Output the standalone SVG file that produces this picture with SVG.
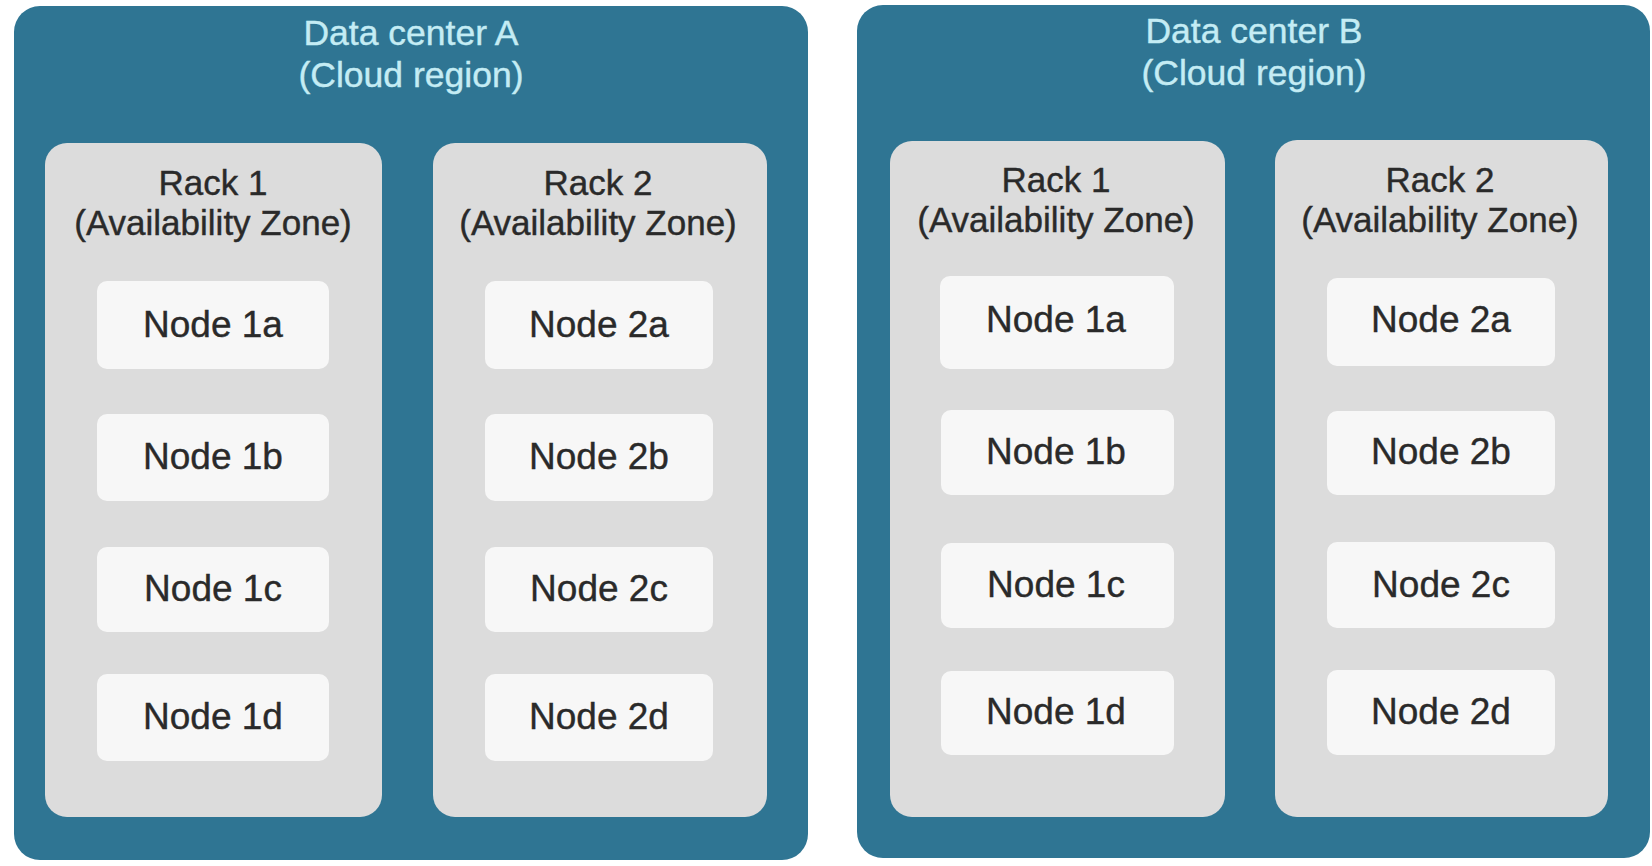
<svg xmlns="http://www.w3.org/2000/svg" width="1652" height="866" viewBox="0 0 1652 866">
<style>
.dc{fill:#2f7593;}
.rack{fill:#dcdcdc;}
.node{fill:#f7f7f7;}
.t{font-family:"Liberation Sans",Arial,sans-serif;text-anchor:middle;}
.dct{fill:#c4ecf4;font-size:35.5px;stroke:#c4ecf4;stroke-width:0.4;}
.rt{fill:#2a2a2a;font-size:35px;stroke:#2a2a2a;stroke-width:0.4;}
.nt{fill:#2a2a2a;font-size:37px;stroke:#2a2a2a;stroke-width:0.4;}
</style>
<rect width="1652" height="866" fill="#ffffff"/>
<g id="dcA">
<rect class="dc" x="14" y="6" width="794" height="854" rx="26"/>
<text class="t dct" x="411" y="45">Data center A</text>
<text class="t dct" x="411" y="87">(Cloud region)</text>
</g>
<g id="dcB">
<rect class="dc" x="857" y="5" width="793" height="853" rx="26"/>
<text class="t dct" x="1254" y="43">Data center B</text>
<text class="t dct" x="1254" y="85">(Cloud region)</text>
</g>
<g id="rackA1">
<rect class="rack" x="45" y="143" width="337" height="674" rx="22"/>
<text class="t rt" x="213" y="195">Rack 1</text>
<text class="t rt" x="213" y="235">(Availability Zone)</text>
</g>
<g id="rackA2">
<rect class="rack" x="433" y="143" width="334" height="674" rx="22"/>
<text class="t rt" x="598" y="195">Rack 2</text>
<text class="t rt" x="598" y="235">(Availability Zone)</text>
</g>
<g id="rackB1">
<rect class="rack" x="890" y="141" width="335" height="676" rx="22"/>
<text class="t rt" x="1056" y="192">Rack 1</text>
<text class="t rt" x="1056" y="232">(Availability Zone)</text>
</g>
<g id="rackB2">
<rect class="rack" x="1275" y="140" width="333" height="677" rx="22"/>
<text class="t rt" x="1440" y="192">Rack 2</text>
<text class="t rt" x="1440" y="232">(Availability Zone)</text>
</g>
<g id="nodeA1a"><rect class="node" x="97" y="281" width="232" height="88" rx="10"/><text class="t nt" x="213" y="337">Node 1a</text></g>
<g id="nodeA1b"><rect class="node" x="97" y="414" width="232" height="87" rx="10"/><text class="t nt" x="213" y="469">Node 1b</text></g>
<g id="nodeA1c"><rect class="node" x="97" y="547" width="232" height="85" rx="10"/><text class="t nt" x="213" y="601">Node 1c</text></g>
<g id="nodeA1d"><rect class="node" x="97" y="674" width="232" height="87" rx="10"/><text class="t nt" x="213" y="729">Node 1d</text></g>
<g id="nodeA2a"><rect class="node" x="485" y="281" width="228" height="88" rx="10"/><text class="t nt" x="599" y="337">Node 2a</text></g>
<g id="nodeA2b"><rect class="node" x="485" y="414" width="228" height="87" rx="10"/><text class="t nt" x="599" y="469">Node 2b</text></g>
<g id="nodeA2c"><rect class="node" x="485" y="547" width="228" height="85" rx="10"/><text class="t nt" x="599" y="601">Node 2c</text></g>
<g id="nodeA2d"><rect class="node" x="485" y="674" width="228" height="87" rx="10"/><text class="t nt" x="599" y="729">Node 2d</text></g>
<g id="nodeB1a"><rect class="node" x="940" y="276" width="234" height="93" rx="10"/><text class="t nt" x="1056" y="332">Node 1a</text></g>
<g id="nodeB1b"><rect class="node" x="941" y="410" width="233" height="85" rx="10"/><text class="t nt" x="1056" y="464">Node 1b</text></g>
<g id="nodeB1c"><rect class="node" x="941" y="543" width="233" height="85" rx="10"/><text class="t nt" x="1056" y="597">Node 1c</text></g>
<g id="nodeB1d"><rect class="node" x="941" y="671" width="233" height="84" rx="10"/><text class="t nt" x="1056" y="724">Node 1d</text></g>
<g id="nodeB2a"><rect class="node" x="1327" y="278" width="228" height="88" rx="10"/><text class="t nt" x="1441" y="332">Node 2a</text></g>
<g id="nodeB2b"><rect class="node" x="1327" y="411" width="228" height="84" rx="10"/><text class="t nt" x="1441" y="464">Node 2b</text></g>
<g id="nodeB2c"><rect class="node" x="1327" y="542" width="228" height="86" rx="10"/><text class="t nt" x="1441" y="597">Node 2c</text></g>
<g id="nodeB2d"><rect class="node" x="1327" y="670" width="228" height="85" rx="10"/><text class="t nt" x="1441" y="724">Node 2d</text></g>
<g id="connectors"></g>
</svg>
